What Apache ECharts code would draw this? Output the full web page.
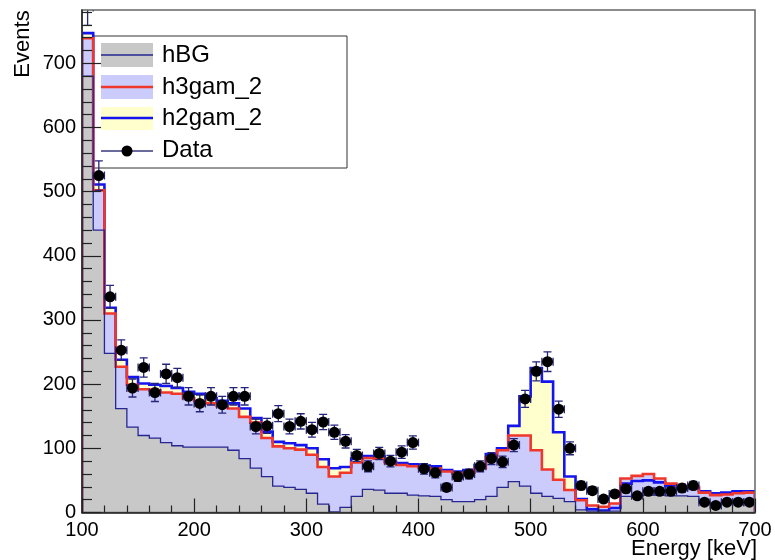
<!DOCTYPE html>
<html><head><meta charset="utf-8">
<script src="https://cdn.jsdelivr.net/npm/echarts@6/dist/echarts.min.js"></script>
<style>html,body{margin:0;padding:0;background:#fff}#c{width:775px;height:560px}</style>
</head><body><div id="c"></div>
<script>
// ---- data ----
const binLow = [100,110,120,130,140,150,160,170,180,190,200,210,220,230,240,250,260,270,280,290,
                300,310,320,330,340,350,360,370,380,390,400,410,420,430,440,450,460,470,480,490,
                500,510,520,530,540,550,560,570,580,590,600,610,620,630,640,650,660,670,680,690];
const binWidth = 10;
const hBG = [680,440,248,162,133,120,116,109,104,102,102,102,102,97,84,69,56,41,39,36,
             30,13,1,8,25,36,35,30,30,27,26,25,20,17,17,20,25,39,48,41,
             30,25,22,17,4,2,2,2,25,26,27,27,26,26,25,15,14,14,15,15];
const h3gam_2 = [59,62,62,65,66,72,74,78,81,76,72,68,64,65,65,71,60,62,61,62,
                 60,58,55,54,53,49,49,47,44,45,44,44,44,44,45,49,61,58,72,79,
                 67,42,29,18,15,9,7,12,28,31,33,26,19,15,15,16,13,14,15,16];
const h2gam_2 = [8,9,9,11,12,9,9,10,9,10,11,8,8,8,13,7,10,7,8,7,
                 10,12,13,9,6,3,3,2,3,3,3,3,2,3,4,5,5,3,15,61,
                 128,137,74,21,2,-6,-6,-7,-8,-8,-10,-6,-4,-2,-2,2,3,3,3,2];
const dataCounts = [787,525,336,253,194,226,187,216,210,181,170,181,168,181,181,134,135,154,134,142,
                    129,141,125,111,89,72,92,80,94,109,68,62,39,56,60,72,84,79,105,177,
                    220,235,161,100,42,34,21,29,37,26,33,33,33,38,42,16,11,16,16,16];
const dataErrors = [28,23,18,16,14,15,14,15,14.5,13.5,13,13.5,13,13.5,13.5,11.6,11.6,12.4,11.6,11.9,
                    11.4,11.9,11.2,10.5,9.4,8.5,9.6,8.9,9.7,10.4,8.2,7.9,6.2,7.5,7.7,8.5,9.2,8.9,10.2,13.3,
                    14.8,15.3,12.7,10,6.5,5.8,4.6,5.4,6.1,5.1,5.7,5.7,5.7,6.2,6.5,4,3.3,4,4,4];
const xTickLabels = [100,200,300,400,500,600,700];
const yTickLabels = [0,100,200,300,400,500,600,700];
const yMinorTicks = [20,40,60,80,120,140,160,180,220,240,260,280,320,340,360,380,420,440,460,480,
                     520,540,560,580,620,640,660,680,720,740,760,780];
const legendNames = ['hBG','h3gam_2','h2gam_2','Data'];

// ---- derived stacks ----
const stackBG = hBG.slice();
const stackMid = hBG.map((v,i)=>v + h3gam_2[i]);
const stackTop = stackMid.map((v,i)=>v + h2gam_2[i]);
const dataPts = dataCounts.map((v,i)=>[binLow[i] + binWidth/2, v, dataErrors[i]]);

const C = {
  gray:'#c8c8c8', lav:'#cbcbfc', yel:'#ffffcd',
  blue:'#1414ee', red:'#f0372b', navy:'#262690', err:'#24247a'
};
const FONT = 'Liberation Sans, Arial, sans-serif';

function histSeries(name, cum, mode, color, lw, z){
  return {
    type:'custom', name, clip:true, z, silent:true,
    data:[[binLow[0],0]],
    renderItem:(params, api)=>{
      const n = cum.length;
      const pts = [api.coord([binLow[0],0])];
      for (let i=0;i<n;i++){
        pts.push(api.coord([binLow[i], cum[i]]));
        pts.push(api.coord([binLow[i]+binWidth, cum[i]]));
      }
      pts.push(api.coord([binLow[n-1]+binWidth, 0]));
      if (mode==='fill') return {type:'polygon', shape:{points:pts}, style:{fill:color, stroke:null}};
      return {type:'polyline', shape:{points:pts}, style:{stroke:color, lineWidth:lw, fill:null}};
    }
  };
}

const chart = echarts.init(document.getElementById('c'), null, {renderer:'canvas'});
const YMAX = 783;
const option = {
  animation:false,
  backgroundColor:'#fff',
  textStyle:{fontFamily:FONT},
  grid:{left:82, top:10, width:673, height:502.5, show:true, borderColor:'#666', borderWidth:1.5,
        backgroundColor:'transparent', containLabel:false, outerBoundsMode:'none', z:30},
  xAxis:{
    type:'value', min:100, max:700, interval:100, z:30,
    axisLine:{show:true, lineStyle:{color:'#222', width:1.5}},
    axisTick:{show:true, inside:true, length:14, lineStyle:{color:'#222', width:1.2}},
    minorTick:{show:true, splitNumber:5, length:7, lineStyle:{color:'#222', width:1.2}},
    splitLine:{show:false}, minorSplitLine:{show:false},
    axisLabel:{show:true, fontSize:20, color:'#000', fontFamily:FONT, margin:8,
               customValues:xTickLabels, formatter:(v)=>String(v)}
  },
  yAxis:[{
    type:'value', min:0, max:YMAX, interval:100, z:30,
    axisLine:{show:true, lineStyle:{color:'#222', width:1.5}},
    axisTick:{show:true, inside:true, length:19, customValues:yTickLabels, lineStyle:{color:'#222', width:1.2}},
    splitLine:{show:false},
    axisLabel:{show:true, fontSize:20, color:'#000', fontFamily:FONT, margin:6,
               customValues:yTickLabels, formatter:(v)=>String(v)}
  },{
    type:'value', min:0, max:YMAX, position:'left', z:30,
    axisLine:{show:false},
    axisTick:{show:true, inside:true, length:10, customValues:yMinorTicks, lineStyle:{color:'#222', width:1.2}},
    splitLine:{show:false}, axisLabel:{show:false}
  }],
  series:[
    histSeries('h2gam_2 fill', stackTop, 'fill', C.yel, 0, 1),
    histSeries('h3gam_2 fill', stackMid, 'fill', C.lav, 0, 2),
    histSeries('hBG fill', stackBG, 'fill', C.gray, 0, 3),
    histSeries('h2gam_2', stackTop, 'line', C.blue, 2.6, 4),
    histSeries('h3gam_2', stackMid, 'line', C.red, 2.6, 5),
    histSeries('hBG', stackBG, 'line', C.navy, 1.3, 6),
    {
      type:'custom', name:'Data errors', clip:true, z:7, silent:true,
      data:dataPts,
      renderItem:(params, api)=>{
        const x = api.value(0), y = api.value(1), e = api.value(2);
        const c = api.coord([x,y]);
        const t = api.coord([x,y+e]);
        const b = api.coord([x,y-e]);
        const l = api.coord([x-binWidth/2,y]);
        const r = api.coord([x+binWidth/2,y]);
        const cap = 4;
        const st = {stroke:C.err, lineWidth:1.3, fill:null};
        return {type:'group', children:[
          {type:'line', shape:{x1:c[0],y1:t[1],x2:c[0],y2:b[1]}, style:st},
          {type:'line', shape:{x1:c[0]-cap,y1:t[1],x2:c[0]+cap,y2:t[1]}, style:st},
          {type:'line', shape:{x1:c[0]-cap,y1:b[1],x2:c[0]+cap,y2:b[1]}, style:st},
          {type:'line', shape:{x1:l[0],y1:c[1],x2:r[0],y2:c[1]}, style:st},
          {type:'line', shape:{x1:l[0],y1:c[1]-cap,x2:l[0],y2:c[1]+cap}, style:st},
          {type:'line', shape:{x1:r[0],y1:c[1]-cap,x2:r[0],y2:c[1]+cap}, style:st}
        ]};
      }
    },
    {
      type:'scatter', name:'Data', z:8, clip:true, silent:true,
      symbol:'circle', symbolSize:11,
      itemStyle:{color:'#000', opacity:1},
      data:dataPts.map(p=>[p[0],p[1]])
    }
  ],
  graphic:[
    {type:'text', z:50, x:23, y:44, rotation:Math.PI/2,
     style:{text:'Events', fontSize:22, fontFamily:FONT, fill:'#000', align:'center', verticalAlign:'middle'}},
    {type:'text', z:50, x:757, y:549,
     style:{text:'Energy [keV]', fontSize:22, fontFamily:FONT, fill:'#000', align:'right', verticalAlign:'middle'}},
    {type:'group', z:100, children:[
      {type:'rect', shape:{x:93, y:36, width:254, height:132}, style:{fill:'#fff', stroke:'#333', lineWidth:1}},
      {type:'rect', shape:{x:101, y:43, width:52, height:24}, style:{fill:C.gray}},
      {type:'line', shape:{x1:101, y1:55, x2:153, y2:55}, style:{stroke:C.navy, lineWidth:1.3}},
      {type:'rect', shape:{x:101, y:75, width:52, height:24}, style:{fill:C.lav}},
      {type:'line', shape:{x1:101, y1:87, x2:153, y2:87}, style:{stroke:C.red, lineWidth:2.6}},
      {type:'rect', shape:{x:101, y:107, width:52, height:23}, style:{fill:C.yel}},
      {type:'line', shape:{x1:101, y1:118, x2:153, y2:118}, style:{stroke:C.blue, lineWidth:2.6}},
      {type:'line', shape:{x1:101, y1:151, x2:153, y2:151}, style:{stroke:'#6a6a9c', lineWidth:2}},
      {type:'circle', shape:{cx:127, cy:151, r:5.5}, style:{fill:'#000'}},
      {type:'text', x:162, y:55, style:{text:legendNames[0], fontSize:24, fontFamily:FONT, fill:'#000', verticalAlign:'middle'}},
      {type:'text', x:162, y:87, style:{text:legendNames[1], fontSize:24, fontFamily:FONT, fill:'#000', verticalAlign:'middle'}},
      {type:'text', x:162, y:118, style:{text:legendNames[2], fontSize:24, fontFamily:FONT, fill:'#000', verticalAlign:'middle'}},
      {type:'text', x:162, y:150, style:{text:legendNames[3], fontSize:24, fontFamily:FONT, fill:'#000', verticalAlign:'middle'}}
    ]}
  ]
};
chart.setOption(option);
</script>
</body></html>
